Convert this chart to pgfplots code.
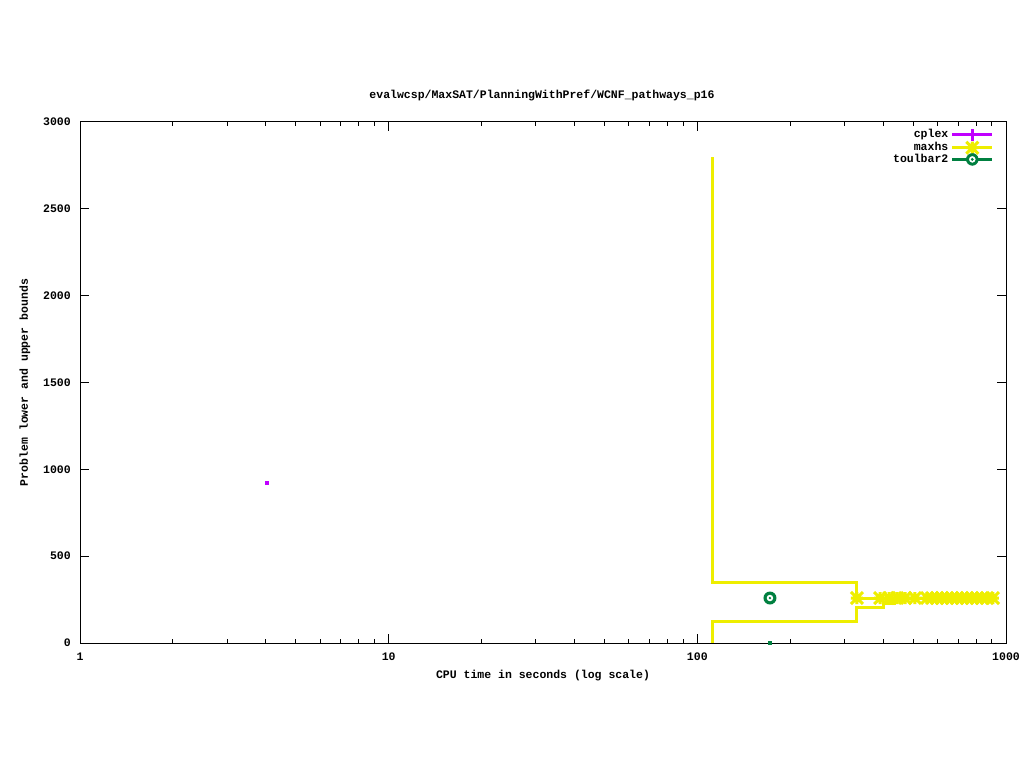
\documentclass[border=0pt]{standalone}
\usepackage{fontspec}
\setmainfont{Liberation Mono}
\usepackage{pgfplots}
\pgfplotsset{compat=1.18}
\definecolor{cplexc}{RGB}{192,0,255}
\definecolor{maxc}{RGB}{238,238,0}
\definecolor{tbc}{RGB}{0,128,64}
\newcommand\gp{\fontsize{11.5}{13}\selectfont\bfseries}
\pgfdeclareplotmark{gpstar}{%
  \pgfpathmoveto{\pgfpoint{-\pgfplotmarksize}{0pt}}\pgfpathlineto{\pgfpoint{\pgfplotmarksize}{0pt}}%
  \pgfpathmoveto{\pgfpoint{0pt}{-\pgfplotmarksize}}\pgfpathlineto{\pgfpoint{0pt}{\pgfplotmarksize}}%
  \pgfpathmoveto{\pgfpoint{-\pgfplotmarksize}{-\pgfplotmarksize}}\pgfpathlineto{\pgfpoint{\pgfplotmarksize}{\pgfplotmarksize}}%
  \pgfpathmoveto{\pgfpoint{-\pgfplotmarksize}{\pgfplotmarksize}}\pgfpathlineto{\pgfpoint{\pgfplotmarksize}{-\pgfplotmarksize}}%
  \pgfusepathqstroke}
\pgfdeclareplotmark{tbmark}{%
  \pgfpathcircle{\pgfpointorigin}{\pgfplotmarksize}\pgfusepathqfill
  \begin{pgfscope}\pgfsetfillcolor{white}\pgfpathcircle{\pgfpointorigin}{0.5\pgfplotmarksize}\pgfusepathqfill\end{pgfscope}%
  \pgfpathcircle{\pgfpointorigin}{0.2\pgfplotmarksize}\pgfusepathqfill}
\begin{document}
\begin{tikzpicture}[x=1pt,y=1pt]
\fill[white] (0,0) rectangle (1024,768);
\begin{axis}[
  at={(80pt,125pt)}, anchor=south west,
  scale only axis, width=926pt, height=521pt,
  xmode=log, xmin=1, xmax=1000, ymin=0, ymax=3000,
  clip=false,
  axis line style={black, line width=1pt},
  every tick/.style={black, line width=1pt},
  major tick length=9pt, minor tick length=4.5pt,
  xtick={1,10,100,1000}, xticklabels={1,10,100,1000},
  ytick={0,500,1000,1500,2000,2500,3000},
  yticklabels={0,500,1000,1500,2000,2500,3000},
  minor ytick={},
  tick label style={font=\gp, inner sep=0pt},
  xticklabel style={anchor=north, yshift=-10pt},
  yticklabel style={anchor=east, xshift=-9pt},
  title={evalwcsp/MaxSAT/PlanningWithPref/WCNF\_pathways\_p16},
  title style={font=\gp, at={(axis description cs:0.5,1)}, anchor=center, yshift=21pt, xshift=-1pt},
  xlabel={CPU time in seconds (log scale)},
  xlabel style={font=\gp, at={(axis description cs:0.5,0)}, anchor=center, yshift=-33pt},
  ylabel={Problem lower and upper bounds},
  ylabel style={font=\gp, at={(axis description cs:0,0.5)}, anchor=center, yshift=55pt},
  legend plot pos=right,
  legend cell align=right,
  legend style={at={(axis description cs:1,1)}, anchor=north east, xshift=-12pt, yshift=-5pt,
     draw=none, fill=none, font=\gp, inner sep=0pt, row sep=-2pt, column sep=1pt,
     nodes={inner sep=1.5pt, text height=7.5pt, text depth=1.5pt}},
]
\addplot[cplexc, only marks, mark=square*, mark size=1.5pt,
  legend image code/.code={\draw[cplexc, line width=3pt] (0pt,0pt) -- (40pt,0pt);
     \draw[cplexc, line width=3pt] (20pt,-6pt) -- (20pt,6pt);}]
  coordinates {(4.04,921)};
\addlegendentry{cplex}
\addplot[maxc, line width=3pt,
  legend image code/.code={\draw[maxc, line width=3pt] (0pt,0pt) -- (40pt,0pt);
     \draw[maxc, line width=3pt] (14pt,0pt) -- (26pt,0pt) (20pt,-6pt) -- (20pt,6pt) (14pt,-6pt) -- (26pt,6pt) (14pt,6pt) -- (26pt,-6pt);}]
  coordinates {(111.6,2798) (111.6,351) (328.9,351) (328.9,259) (907.5,259)};
\addlegendentry{maxhs}
\addplot[maxc, line width=3pt, forget plot]
  coordinates {(111.6,0) (111.6,121) (328.9,121) (328.9,207) (400,207) (400,225) (434,225) (434,242) (477,242) (477,259) (907.5,259)};
\addplot[maxc, only marks, mark=gpstar, mark size=6pt, line width=3pt, forget plot]
  coordinates {(329,259) (391,259) (418,259) (444,259) (471,259) (507,259) (555,259) (576,259) (598,259) (620,259) (644,259) (668,259) (694,259) (720,259) (747,259) (776,259) (805,259) (836,259) (868,259) (907.5,259)};
\addplot[tbc, only marks, mark=tbmark, mark size=6.5pt, mark options={fill=tbc},
  legend image code/.code={\draw[tbc, line width=3pt] (0pt,0pt) -- (40pt,0pt);
     \fill[tbc] (20pt,0pt) circle (6pt); \fill[white] (20pt,0pt) circle (3pt); \fill[tbc] (20pt,0pt) circle (1.2pt);}]
  coordinates {(171.9,259)};
\addlegendentry{toulbar2}
\addplot[tbc, only marks, mark=square*, mark size=1.5pt, forget plot]
  coordinates {(171.9,0)};
\end{axis}
\end{tikzpicture}
\end{document}
